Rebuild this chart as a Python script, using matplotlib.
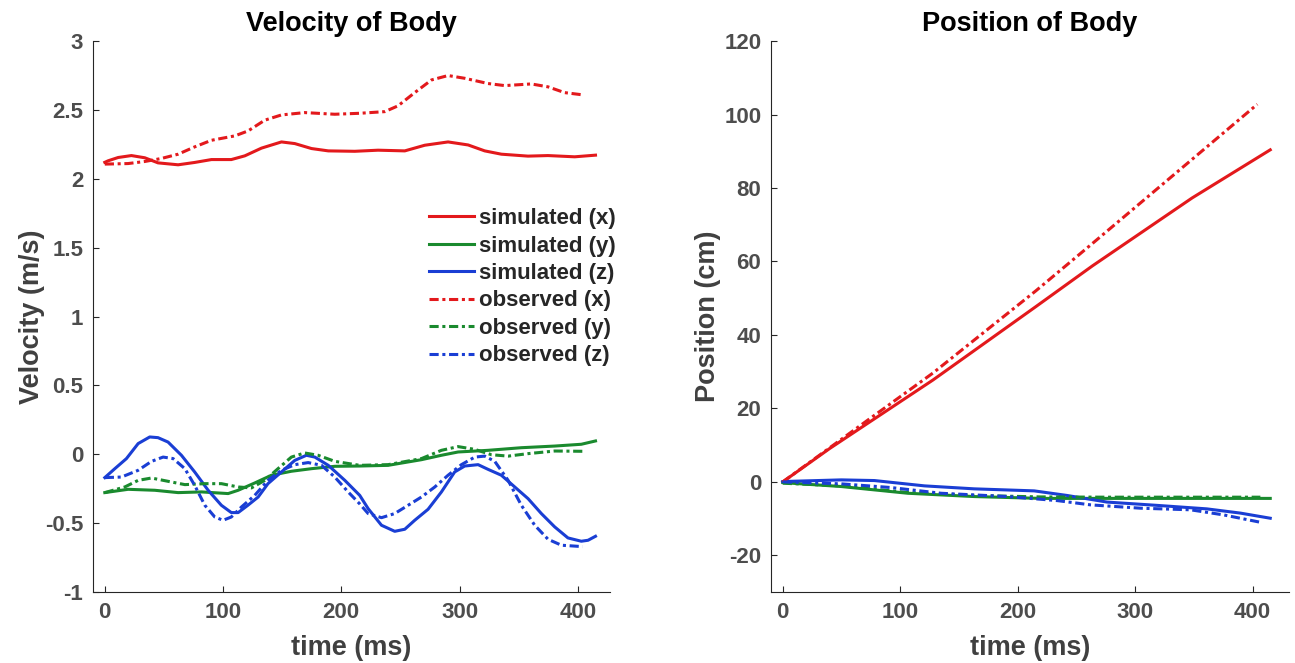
import matplotlib
matplotlib.use("Agg")
import matplotlib.pyplot as plt
from matplotlib.ticker import FormatStrFormatter

# ---- velocity data (m/s) ----
t_vsx = [0, 2.8, 11.3, 22.5, 33.8, 45, 62, 76, 90.2, 107, 118.4, 132.5, 149.4, 160.7, 174.8, 189, 211.4,
         231.1, 253.7, 270.6, 290.3, 307.3, 321.3, 335.4, 357.9, 374.8, 397.4, 415]
v_sim_x = [2.12, 2.131, 2.155, 2.169, 2.153, 2.116, 2.102, 2.119, 2.14, 2.14, 2.167, 2.223, 2.268, 2.256, 2.22, 2.203, 2.2,
           2.208, 2.203, 2.244, 2.268, 2.246, 2.203, 2.179, 2.165, 2.169, 2.16, 2.172]

t_vox = [0, 19.7, 33.8, 47.9, 62, 76, 90.2, 110, 121.2, 135.3, 149.4, 169.1, 194.5, 215.6, 236.8, 248, 262.1,
         276.3, 290.3, 304.4, 324.1, 338.2, 360.7, 374.8, 388.9, 404]
v_obs_x = [2.107, 2.111, 2.126, 2.148, 2.179, 2.232, 2.28, 2.312, 2.348, 2.426, 2.464, 2.481, 2.469, 2.476, 2.488, 2.53, 2.626,
           2.718, 2.75, 2.73, 2.692, 2.677, 2.689, 2.668, 2.626, 2.61]

t_vsy = [0, 19.7, 42.3, 62, 81.8, 104.3, 112.8, 126.8, 140.9, 157.8, 175, 194.5, 215.6, 239.6, 267.8, 284.7,
         298.8, 324.1, 352.3, 380.5, 403, 415]
v_sim_y = [-0.278, -0.254, -0.261, -0.278, -0.273, -0.285, -0.261, -0.208, -0.152, -0.123, -0.104, -0.087, -0.085, -0.08, -0.039, -0.007,
           0.017, 0.029, 0.048, 0.06, 0.073, 0.097]

t_voy = [0, 16.9, 28.2, 39.5, 53.5, 67.7, 84.6, 98.6, 112.8, 124, 135.3, 146.5, 157.8, 169, 180.4, 194.5, 215.6,
         239.6, 267.8, 284.7, 298.8, 312.9, 327, 341.1, 358, 380.5, 404]
v_obs_y = [-0.278, -0.237, -0.189, -0.172, -0.196, -0.22, -0.213, -0.213, -0.237, -0.244, -0.189, -0.104, -0.02, 0.01, -0.007, -0.051, -0.08,
           -0.075, -0.031, 0.029, 0.056, 0.036, -0.003, -0.013, 0.005, 0.024, 0.022]

t_vsz = [0, 8.5, 18.3, 28.2, 38, 45, 53.5, 64.8, 76, 87.4, 98.6, 107, 112.8, 121, 129.7, 138, 149.4, 160.7, 170.5, 177.6,
         189, 203, 215.6, 222.7, 234, 245.2, 253.7, 262.1, 273.4, 284.7, 295.9, 304.4, 315.7, 324.1, 335.4, 346.7,
         358, 369.2, 380.5, 391.7, 403, 408.7, 415]
v_sim_z = [-0.169, -0.104, -0.031, 0.078, 0.126, 0.121, 0.089, -0.007, -0.128, -0.261, -0.37, -0.423, -0.423, -0.37, -0.31, -0.213, -0.128, -0.044, -0.007, -0.02,
           -0.08, -0.189, -0.298, -0.394, -0.515, -0.559, -0.544, -0.479, -0.399, -0.273, -0.128, -0.085, -0.075, -0.109, -0.152, -0.237,
           -0.322, -0.43, -0.527, -0.607, -0.631, -0.624, -0.595]

t_voz = [0, 14.1, 28.2, 39.5, 49.3, 57.8, 67.7, 76, 84.6, 93, 100, 107, 115.6, 126.8, 138, 149.4, 160.7, 172, 183.3,
         194.5, 205.8, 215.6, 222.7, 234, 245.2, 256.5, 267.8, 279.1, 290.3, 301.6, 312.9, 321.3, 329.8, 341.1, 352.3,
         363.6, 374.9, 386.2, 404]
v_obs_z = [-0.169, -0.165, -0.116, -0.051, -0.02, -0.031, -0.104, -0.225, -0.37, -0.455, -0.479, -0.455, -0.382, -0.298, -0.189, -0.116, -0.075, -0.06, -0.08,
           -0.165, -0.273, -0.36, -0.43, -0.46, -0.43, -0.37, -0.31, -0.237, -0.152, -0.075, -0.02, -0.013, -0.051, -0.189, -0.37,
           -0.515, -0.617, -0.66, -0.67]

# ---- position data (cm) ----
t_psx = [0, 40, 127.7, 215.4, 263.6, 348.5, 415]
p_sim_x = [0, 9.1, 27.7, 47.7, 58.8, 77.3, 90.4]
t_pox = [0, 65.4, 127.7, 215.4, 263.6, 404]
p_obs_x = [0, 15.2, 29.6, 52.0, 64.9, 102.8]

t_psy = [0, 49.8, 106.4, 163, 219.6, 276, 415]
p_sim_y = [-0.2, -1.27, -3.1, -4.0, -4.5, -4.5, -4.5]
t_poy = [0, 49.8, 106.4, 163, 219.6, 276, 406.6]
p_obs_y = [-0.36, -1.1, -2.9, -3.7, -4.1, -4.17, -4.17]

t_psz = [0, 49.8, 78, 120.6, 163, 214, 242, 276, 318.7, 361, 389.5, 415]
p_sim_z = [0.09, 0.54, 0.36, -1.09, -1.9, -2.45, -3.7, -5.5, -6.4, -7.35, -8.5, -9.9]
t_poz = [0, 49.8, 92, 134.7, 191.3, 233.7, 262, 304.6, 347, 375.4, 406.6]
p_obs_z = [0, -0.54, -1.54, -3.1, -4.0, -5.1, -6.26, -7.17, -7.6, -9.0, -11.0]

RED = "#E3191C"
GREEN = "#1A8A2E"
BLUE = "#1A3ED4"
DASHDOT = (0, (3.0, 1.2, 1.0, 1.2))
LW = 2.2

plt.rcParams["font.family"] = ["Liberation Sans", "DejaVu Sans"]
plt.rcParams["font.weight"] = "bold"
plt.rcParams["axes.unicode_minus"] = False

fig = plt.figure(figsize=(12.95, 6.63), dpi=100)
ax1 = fig.add_axes([0.0718, 0.107, 0.399, 0.831])
ax2 = fig.add_axes([0.5954, 0.107, 0.4, 0.831])


def style(ax):
    for s in ("top", "right"):
        ax.spines[s].set_visible(False)
    for s in ("left", "bottom"):
        ax.spines[s].set_color("#262626")
        ax.spines[s].set_linewidth(0.8)
    ax.tick_params(direction="in", length=4.5, width=0.8, color="#262626",
                   labelsize=16, labelcolor="#4D4D4D", pad=7)
    for lab in ax.get_xticklabels() + ax.get_yticklabels():
        lab.set_fontweight("bold")


ax1.plot(t_vsx, v_sim_x, color=RED, lw=LW, label="simulated (x)")
ax1.plot(t_vsy, v_sim_y, color=GREEN, lw=LW, label="simulated (y)")
ax1.plot(t_vsz, v_sim_z, color=BLUE, lw=LW, label="simulated (z)")
ax1.plot(t_vox, v_obs_x, color=RED, lw=LW, ls=DASHDOT, label="observed (x)")
ax1.plot(t_voy, v_obs_y, color=GREEN, lw=LW, ls=DASHDOT, label="observed (y)")
ax1.plot(t_voz, v_obs_z, color=BLUE, lw=LW, ls=DASHDOT, label="observed (z)")
ax1.set_xlim(-10, 427)
ax1.set_ylim(-1, 3)
ax1.set_xticks([0, 100, 200, 300, 400])
ax1.set_yticks([-1, -0.5, 0, 0.5, 1, 1.5, 2, 2.5, 3])
ax1.yaxis.set_major_formatter(FormatStrFormatter("%g"))
style(ax1)
ax1.set_title("Velocity of Body", fontsize=19.5, fontweight="bold", pad=7)
ax1.set_xlabel("time (ms)", fontsize=19.5, fontweight="bold", color="#404040", labelpad=9)
ax1.set_ylabel("Velocity (m/s)", fontsize=19.5, fontweight="bold", color="#404040", labelpad=0)
leg = ax1.legend(loc="upper right", bbox_to_anchor=(1.034, 0.717), frameon=False,
                 fontsize=16, handlelength=2.0, handletextpad=0.25,
                 labelspacing=0.29, borderpad=0)
for txt in leg.get_texts():
    txt.set_fontweight("bold")
    txt.set_color("#262626")

ax2.plot(t_psx, p_sim_x, color=RED, lw=LW)
ax2.plot(t_psy, p_sim_y, color=GREEN, lw=LW)
ax2.plot(t_psz, p_sim_z, color=BLUE, lw=LW)
ax2.plot(t_pox, p_obs_x, color=RED, lw=LW, ls=DASHDOT)
ax2.plot(t_poy, p_obs_y, color=GREEN, lw=LW, ls=DASHDOT)
ax2.plot(t_poz, p_obs_z, color=BLUE, lw=LW, ls=DASHDOT)
ax2.set_xlim(-10, 431)
ax2.set_ylim(-30, 120)
ax2.set_xticks([0, 100, 200, 300, 400])
ax2.set_yticks([-20, 0, 20, 40, 60, 80, 100, 120])
ax2.yaxis.set_major_formatter(FormatStrFormatter("%g"))
style(ax2)
ax2.set_title("Position of Body", fontsize=19.5, fontweight="bold", pad=7)
ax2.set_xlabel("time (ms)", fontsize=19.5, fontweight="bold", color="#404040", labelpad=9)
ax2.set_ylabel("Position (cm)", fontsize=19.5, fontweight="bold", color="#404040", labelpad=2)

fig.savefig("out.png", dpi=100)
